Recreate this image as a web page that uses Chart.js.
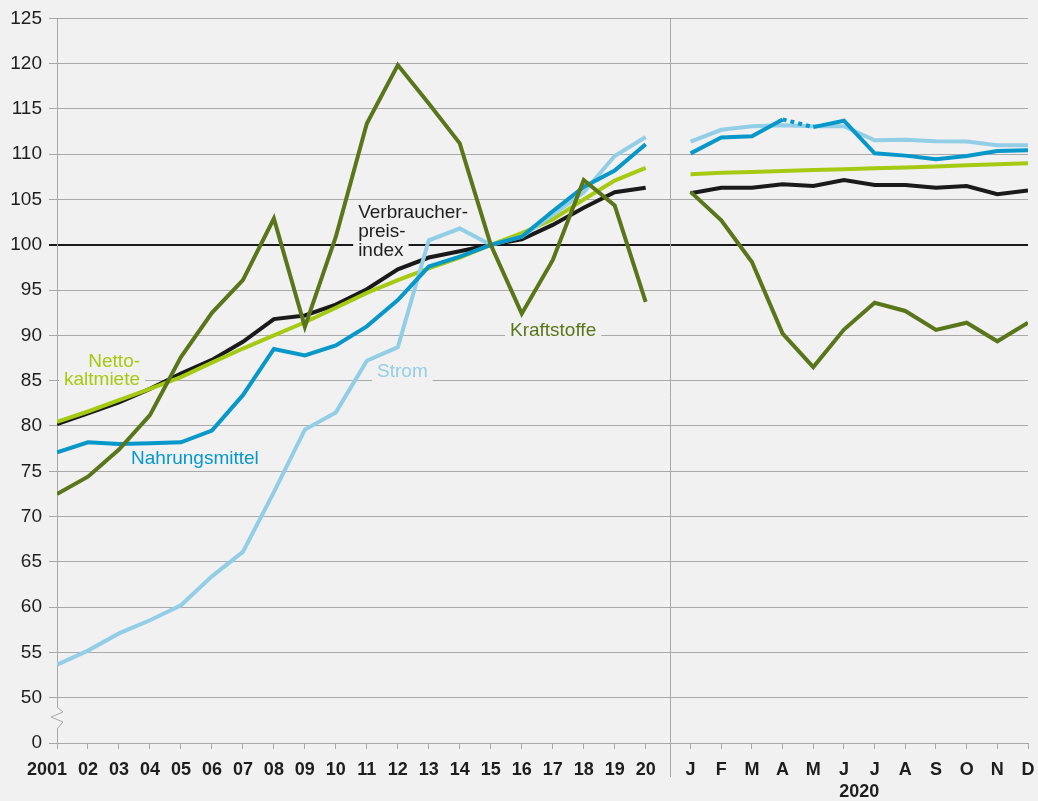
<!DOCTYPE html>
<html>
<head>
<meta charset="utf-8">
<script src="https://cdn.jsdelivr.net/npm/chart.js@4.4.1/dist/chart.umd.min.js"></script>
<style>
html, body { margin: 0; padding: 0; background: #f1f1f1; }
#wrap { width: 1038px; height: 801px; }
</style>
</head>
<body>
<div id="wrap"><canvas id="chart" width="1038" height="801"></canvas></div>
<script>
// Jahreswerte 2001-2020 (2015 = 100), Monatswerte 2020
const years = ["2001", "02", "03", "04", "05", "06", "07", "08", "09", "10",
               "11", "12", "13", "14", "15", "16", "17", "18", "19", "20"];
const months = ["J", "F", "M", "A", "M", "J", "J", "A", "S", "O", "N", "D"];

const vpiYears = [80.2, 81.4, 82.6, 84.1, 85.8, 87.3, 89.3, 91.8, 92.2, 93.4,
                  95.1, 97.3, 98.6, 99.3, 100, 100.6, 102.2, 104.1, 105.8, 106.3];
const vpiMonths = [105.7, 106.3, 106.3, 106.7, 106.5, 107.15, 106.6, 106.6, 106.3, 106.5, 105.6, 106.0];

const mieteYears = [80.45, 81.6, 82.85, 84.1, 85.4, 87.0, 88.55, 90.0, 91.45, 93.05,
                    94.7, 96.1, 97.4, 98.6, 100, 101.3, 102.8, 105.0, 107.1, 108.5];
const mieteMonths = [107.8, 107.95, 108.05, 108.15, 108.25, 108.35, 108.45, 108.55, 108.65, 108.8, 108.9, 109.0];

const nahrungYears = [77.1, 78.2, 78.0, 78.1, 78.2, 79.5, 83.4, 88.5, 87.8, 88.9,
                      91.0, 93.9, 97.6, 98.7, 100, 100.9, 103.7, 106.4, 108.2, 111.1];
const nahrungMonths = [110.1, 111.85, 112.0, 113.85, 113.0, 113.7, 110.1, 109.85, 109.45, 109.8, 110.35, 110.45];

const stromYears = [53.65, 55.2, 57.1, 58.55, 60.2, 63.4, 66.1, 72.7, 79.6, 81.5,
                    87.2, 88.7, 100.5, 101.8, 100, 100.9, 103.3, 105.8, 109.8, 111.9];
const stromMonths = [111.4, 112.7, 113.1, 113.2, 113.1, 113.1, 111.55, 111.6, 111.45, 111.4, 111.0, 111.0];

const kraftYears = [72.5, 74.4, 77.4, 81.2, 87.6, 92.5, 96.1, 102.9, 90.95, 100.9,
                    113.4, 119.85, 115.6, 111.2, 100, 92.4, 98.3, 107.15, 104.35, 93.7];
const kraftMonths = [105.85, 102.7, 98.1, 90.2, 86.5, 90.65, 93.6, 92.7, 90.6, 91.4, 89.35, 91.4];

const BG = "#f1f1f1";
const GRID = "#a9a9a9";
const TEXT = "#1e1e1e";
const BLACK = "#1a1a1a";
const LIME = "#a6c912";
const BLUE = "#0797c9";
const LIGHT = "#93cee7";
const OLIVE = "#5a761b";

const FONT = "'Liberation Sans', Arial, sans-serif";

// x-Positionen: Jahre im Abstand 1, danach die Monate 2020
const yearX = years.map((y, i) => i);
const monthX = months.map((m, i) => 20.45 + i * 0.99);
const splitX = 19.77;
const tickX = yearX.concat(monthX);
const tickLabels = years.concat(months);

function series(yearVals, monthVals) {
    const pts = yearVals.map((v, i) => ({ x: yearX[i], y: v }));
    pts.push({ x: splitX, y: null });
    monthVals.forEach((v, i) => pts.push({ x: monthX[i], y: v }));
    return pts;
}

// Beschriftungen der Linien
const notes = [
    { lines: ["Verbraucher-", "preis-", "index"], color: TEXT, x: 9.72, y: [102.95, 100.85, 98.75], align: "left" },
    { lines: ["Netto-", "kaltmiete"], color: LIME, x: 2.68, y: [86.5, 84.5], align: "right" },
    { lines: ["Nahrungsmittel"], color: BLUE, x: 2.39, y: [75.8], align: "left" },
    { lines: ["Strom"], color: LIGHT, x: 10.33, y: [85.4], align: "left" },
    { lines: ["Kraftstoffe"], color: OLIVE, x: 14.62, y: [89.95], align: "left" }
];

const extras = {
    id: "extras",
    beforeDatasetsDraw(chart) {
        const ctx = chart.ctx;
        const xs = chart.scales.x;
        const ys = chart.scales.y;
        const area = chart.chartArea;

        // Trennlinie Jahre / Monate
        const sx = Math.round(xs.getPixelForValue(splitX)) + 0.5;
        ctx.save();
        ctx.strokeStyle = GRID;
        ctx.lineWidth = 1;
        ctx.beginPath();
        ctx.moveTo(sx, area.top);
        ctx.lineTo(sx, area.bottom + 34);
        ctx.stroke();

        // Achsenbruch
        const ax = area.left;
        ctx.fillStyle = BG;
        ctx.fillRect(ax - 2, 707, 4, 22);
        ctx.beginPath();
        ctx.moveTo(ax, 707);
        ctx.lineTo(ax + 6, 712);
        ctx.lineTo(ax - 6, 717);
        ctx.lineTo(ax + 6, 722);
        ctx.lineTo(ax, 729);
        ctx.strokeStyle = GRID;
        ctx.stroke();

        // Linienbeschriftungen
        ctx.font = "19px " + FONT;
        ctx.textBaseline = "alphabetic";
        notes.forEach(n => {
            const px = xs.getPixelForValue(n.x);
            n.lines.forEach((t, i) => {
                const py = ys.getPixelForValue(n.y[i]);
                const w = ctx.measureText(t).width;
                const left = n.align === "right" ? px - w : px;
                ctx.fillStyle = BG;
                ctx.fillRect(left - 5, py - 15, w + 10, 20);
                ctx.fillStyle = n.color;
                ctx.textAlign = "left";
                ctx.fillText(t, left, py);
            });
        });
        ctx.restore();
    },
    afterDraw(chart) {
        const ctx = chart.ctx;
        const xs = chart.scales.x;
        const mid = (xs.getPixelForValue(monthX[5]) + xs.getPixelForValue(monthX[6])) / 2;
        ctx.save();
        ctx.font = "bold 18px " + FONT;
        ctx.fillStyle = TEXT;
        ctx.textAlign = "center";
        ctx.textBaseline = "middle";
        ctx.fillText("2020", mid, 792);
        ctx.restore();
    }
};

function lineSet(label, yearVals, monthVals, color, order) {
    return {
        label: label,
        data: series(yearVals, monthVals),
        borderColor: color,
        backgroundColor: color,
        borderWidth: 4,
        pointRadius: 0,
        tension: 0,
        spanGaps: false,
        borderCapStyle: "butt",
        borderJoinStyle: "miter",
        order: order
    };
}

const nahrung = lineSet("Nahrungsmittel", nahrungYears, nahrungMonths, BLUE, 1);
// gepunktetes Stück April-Mai 2020
nahrung.segment = {
    borderDash: ctx => ctx.p0DataIndex === years.length + 1 + 3 ? [4, 4] : undefined
};

new Chart(document.getElementById("chart"), {
    type: "line",
    data: {
        datasets: [
            lineSet("Kraftstoffe", kraftYears, kraftMonths, OLIVE, 0),
            nahrung,
            lineSet("Strom", stromYears, stromMonths, LIGHT, 2),
            lineSet("Nettokaltmiete", mieteYears, mieteMonths, LIME, 3),
            lineSet("Verbraucherpreisindex", vpiYears, vpiMonths, BLACK, 4)
        ]
    },
    options: {
        responsive: false,
        animation: false,
        layout: { padding: { top: 18, right: 10, left: 0, bottom: 0 } },
        plugins: {
            legend: { display: false },
            tooltip: { enabled: false }
        },
        scales: {
            x: {
                type: "linear",
                min: 0,
                max: monthX[monthX.length - 1],
                afterBuildTicks: s => { s.ticks = tickX.map(v => ({ value: v })); },
                afterFit: s => { s.height = 58; s.paddingLeft = 0; s.paddingRight = 0; },
                ticks: {
                    autoSkip: false,
                    maxRotation: 0,
                    padding: 10,
                    color: TEXT,
                    font: { family: FONT, size: 18, weight: "bold" },
                    callback: (v, i) => i === 0 ? tickLabels[i] + "    " : tickLabels[i]
                },
                grid: { drawOnChartArea: false, drawTicks: true, tickLength: 6, color: GRID },
                border: { color: GRID }
            },
            y: {
                min: 45,
                max: 125,
                afterFit: s => { s.width = 57; },
                ticks: {
                    stepSize: 5,
                    padding: 7,
                    color: TEXT,
                    font: { family: FONT, size: 19 },
                    callback: v => v === 45 ? "0" : v
                },
                grid: {
                    tickLength: 8,
                    color: c => c.tick && c.tick.value === 100 ? BLACK : GRID,
                    lineWidth: c => c.tick && c.tick.value === 100 ? 2 : 1
                },
                border: { color: GRID }
            }
        }
    },
    plugins: [extras]
});
</script>
</body>
</html>
